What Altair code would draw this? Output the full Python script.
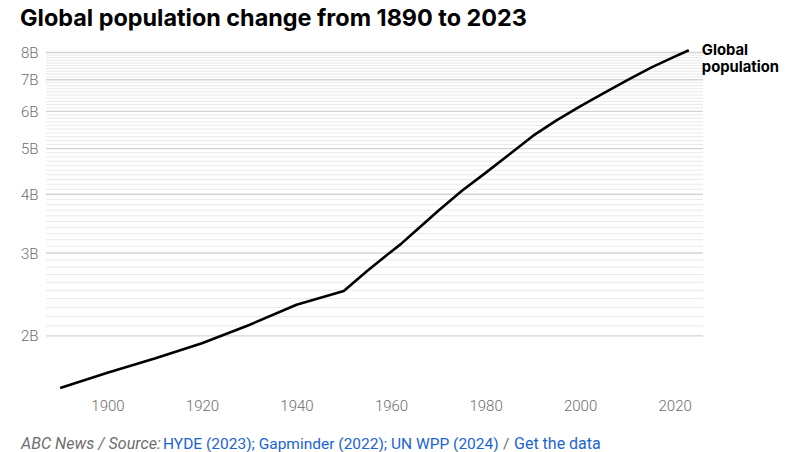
import altair as alt
import pandas as pd
import numpy as np

years = [1890, 1900, 1910, 1920, 1930, 1940, 1950, 1955, 1960, 1962, 1965,
         1970, 1975, 1980, 1985, 1990, 1995, 2000, 2005, 2010, 2015, 2020, 2023]
pop_b = [1.55, 1.67, 1.79, 1.93, 2.11, 2.33, 2.49, 2.75, 3.02, 3.13, 3.33,
         3.69, 4.07, 4.44, 4.86, 5.32, 5.74, 6.15, 6.56, 6.99, 7.43, 7.84, 8.09]
label_values_b = [2, 3, 4, 5, 6, 7, 8]
x_ticks = [1900, 1920, 1940, 1960, 1980, 2000, 2020]
series_label = "Global\npopulation"
title_text = "Global population change from 1890 to 2023"

df = pd.DataFrame({"year": years, "pop": [v * 1e9 for v in pop_b]})
grid_vals = [round(v, 1) for v in np.arange(2.0, 8.01, 0.1)]
grid_df = pd.DataFrame({"g": [v * 1e9 for v in grid_vals],
                        "major": [abs(v - round(v)) < 1e-6 for v in grid_vals]})

W, H = 657, 347
FONT = "Roboto"
BOLD_FONT = "Inter"
GRAY = "#6e6e6e"
BLUE = "#1c64d1"

yscale = alt.Scale(type="log", domain=[1.52e9, 8.3e9], nice=False)
xscale = alt.Scale(domain=[1887, 2026], nice=False, zero=False)

yaxis = alt.Axis(values=[v * 1e9 for v in label_values_b], domain=False, ticks=False, grid=False,
                 labelExpr="format(datum.value/1e9, 'd') + 'B'",
                 labelFont=FONT, labelFontSize=15, labelFontWeight=300, labelColor=GRAY, labelPadding=8)

grid = alt.Chart(grid_df).mark_rule().encode(
    y=alt.Y("g:Q", scale=yscale, axis=yaxis, title=None),
    color=alt.Color("major:N", scale=alt.Scale(domain=[True, False], range=["#d4d4d4", "#e9e9e9"]), legend=None),
    strokeWidth=alt.StrokeWidth("major:N", scale=alt.Scale(domain=[True, False], range=[1.4, 1.0]), legend=None),
)

line = alt.Chart(df).mark_line(color="black", strokeWidth=2.6, strokeJoin="round").encode(
    x=alt.X("year:Q", scale=xscale, title=None,
            axis=alt.Axis(values=x_ticks, format="d", domain=False, ticks=False, grid=False,
                          labelFont=FONT, labelFontSize=15, labelFontWeight=300, labelColor=GRAY,
                          labelPadding=6)),
    y=alt.Y("pop:Q", scale=yscale, title=None, axis=yaxis),
)

end_label = alt.Chart(df.tail(1)).mark_text(
    text=series_label, lineBreak="\n", align="left", baseline="top", dx=13, dy=-7,
    font=BOLD_FONT, fontSize=14.8, fontWeight="bold", color="black", lineHeight=16.5,
).encode(x="year:Q", y="pop:Q")

foot_df = pd.DataFrame({"t": [0]})
def foot(text, x, color, italic=False, size=15.5):
    return alt.Chart(foot_df).mark_text(
        text=text, align="left", baseline="middle", font=FONT, fontSize=size,
        fontStyle="italic" if italic else "normal", color=color,
    ).encode(x=alt.value(x), y=alt.value(H + 52))

footer = (foot("ABC News / Source:", -25, GRAY, True, 16.1)
          + foot("HYDE (2023); Gapminder (2022); UN WPP (2024)", 117, BLUE)
          + foot("/", 457, GRAY)
          + foot("Get the data", 468, BLUE, False, 16))

chart = alt.layer(grid, line, end_label, footer).properties(
    width=W, height=H,
    title=alt.TitleParams(title_text, anchor="start", frame="group", font=BOLD_FONT, fontSize=23.4,
                          fontWeight="bold", color="black", dx=-26, offset=12),
    autosize=alt.AutoSizeParams(type="none"),
    padding={"left": 38, "top": 37, "right": 79, "bottom": 60},
).configure_view(stroke=None)

chart.save("out.html", embed_options={"renderer": "svg", "actions": False})
